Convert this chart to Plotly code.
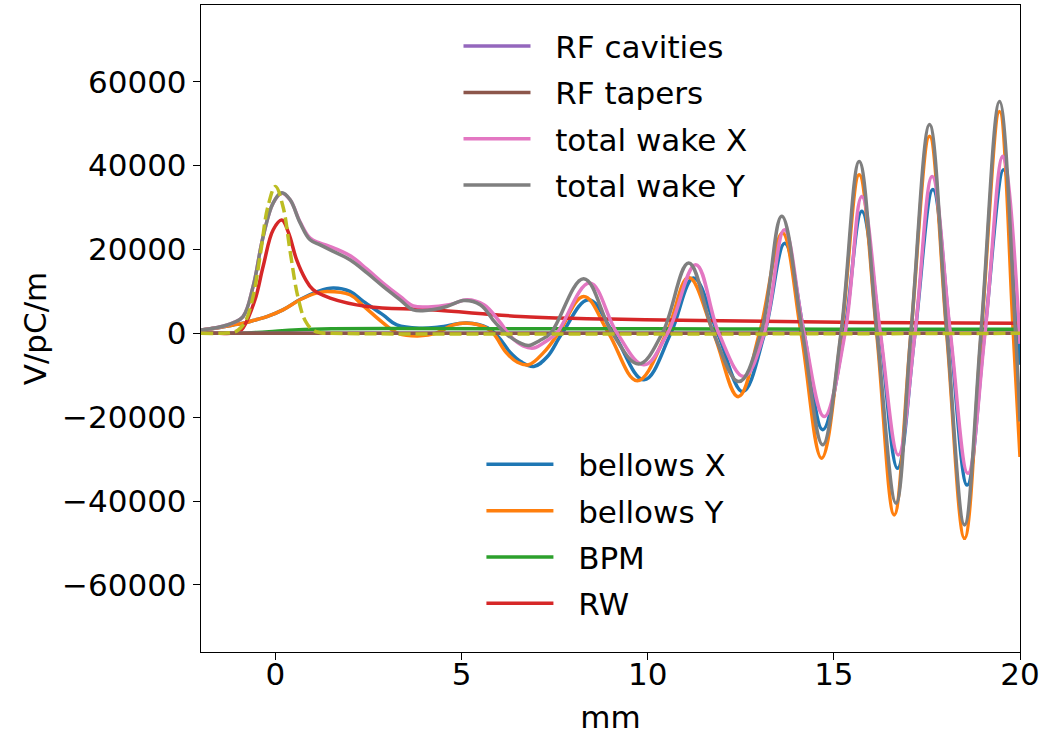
import plotly.graph_objects as go

# ---------------- data ----------------
bellows_x_x = [-2, -1.5, -1.14, -0.87, -0.5, -0.23, 0.2, 0.66, 1.12, 1.55, 2.0, 2.36, 2.89, 3.26, 3.9,
               4.4, 5.15, 5.7, 6.0, 6.3, 6.6, 6.94, 7.3, 7.7, 8.41, 9.08, 9.9, 10.62, 11.23, 11.88,
               12.55, 13.14, 13.68, 14.2, 14.7, 15.28, 15.75, 16.24, 16.71, 17.18, 17.66, 18.12,
               18.58, 19.05, 19.56, 19.94, 20.0]
bellows_x_y = [800, 1400, 2000, 2400, 3300, 4000, 5600, 8050, 9900, 10800, 10000, 7600, 4400, 2000, 1200,
               1500, 2450, 1300, -1000, -4500, -6800, -7900, -5600, 0, 8000, 0, -11100, 0, 13200, 0,
               -13900, 0, 21500, 0, -23000, 0, 29100, 0, -32200, 0, 34300, 0,
               -36200, 0, 39000, 0, -7500]

bellows_y_x = [-2, -1.5, -1.14, -0.87, -0.5, -0.23, 0.2, 0.66, 1.12, 1.4, 2.0, 2.36, 2.89, 3.3, 3.89,
               4.3, 4.78, 5.15, 5.6, 5.85, 6.2, 6.5, 6.8, 7.2, 7.6, 8.28, 8.95, 9.72, 10.5, 11.1, 11.77,
               12.43, 13.0, 13.62, 14.12, 14.67, 15.2, 15.68, 16.15, 16.62, 17.07, 17.57, 18.03,
               18.51, 18.96, 19.45, 19.82, 20.0]
bellows_y_y = [800, 1400, 2000, 2400, 3300, 4000, 5600, 8000, 9650, 10000, 9200, 6560, 2500, 0, -600,
               0, 2000, 2430, 1600, 0, -4600, -6900, -7500, -4600, 0, 8800, 0, -11300, 0, 13300, 0,
               -15100, 0, 23900, 0, -29800, 0, 37800, 0, -43300, 0, 47000, 0,
               -48900, 0, 52900, 0, -29500]

bpm_x = [-2, -1.0, -0.5, 0.0, 0.5, 1.0, 1.5, 3.0, 6.0, 10.0, 15.0, 20.0]
bpm_y = [0, 30, 200, 500, 800, 1000, 1100, 1150, 1120, 1080, 1000, 950]

rw_x = [-2, -1.5, -1.2, -1.0, -0.87, -0.55, -0.33, -0.06, 0.17, 0.35, 0.57, 0.8, 1.01, 1.47, 2.46, 4.16,
        6.85, 9.0, 11.4, 15.7, 20.0]
rw_y = [0, 0, 0, 250, 1300, 8000, 16000, 24700, 27000, 24000, 17500, 13000, 10400, 8400, 6400, 5600,
        3870, 3400, 3060, 2600, 2400]

rf_cav_x = [-2, 0, 5, 10, 15, 20]
rf_cav_y = [0, 0, 0, 0, 0, 0]

rf_tap_x = [-2, 0, 5, 10, 15, 20]
rf_tap_y = [0, 0, 0, 0, 0, 0]

total_x_x = [-2, -1.5, -1.14, -0.87, -0.6, -0.33, -0.06, 0.17, 0.39, 0.66, 0.93, 1.2, 1.47, 2.01, 2.46,
             2.89, 3.35, 3.7, 4.1, 4.7, 5.15, 5.6, 6.0, 6.35, 6.65, 6.94, 7.25, 7.55, 8.44, 9.18, 9.9, 10.53,
             11.29, 11.91, 12.58, 13.13, 13.67, 14.2, 14.74, 15.3, 15.75, 16.25, 16.73, 17.18,
             17.64, 18.13, 18.6, 19.06, 19.54, 20.0]
total_x_y = [800, 1500, 2500, 4000, 11200, 23100, 31100, 33400, 31900, 26600, 22700, 21500, 20700, 18500, 15300,
             12000, 8800, 6560, 6300, 6900, 8000, 6800, 3000, -1000, -3000, -3500, -2000, 0, 12000, 0, -7500, 0,
             16350, 0, -10300, 0, 24700, 0, -19850, 0, 32650, 0, -29000, 0,
             37400, 0, -33400, 0, 42200, -2500]

total_y_x = [-2, -1.5, -1.14, -0.87, -0.6, -0.33, -0.06, 0.17, 0.39, 0.66, 0.93, 1.2, 1.47, 2.01, 2.46,
             2.89, 3.35, 3.7, 4.1, 4.6, 5.06, 5.5, 5.9, 6.22, 6.55, 6.8, 7.1, 7.39, 8.28, 9.05, 9.76, 10.39,
             11.1, 11.77, 12.45, 13.04, 13.6, 14.16, 14.7, 15.19, 15.68, 16.16, 16.67, 17.07,
             17.57, 18.04, 18.51, 18.95, 19.45, 19.88, 20.0]
total_y_y = [800, 1500, 2500, 4000, 11200, 23100, 31100, 33500, 31900, 26400, 22300, 21100, 19900, 17500, 14400,
             11200, 8000, 5600, 5500, 6400, 7800, 6800, 2600, -300, -2200, -2900, -1700, 0, 13000, 0, -7300, 0,
             16750, 0, -11500, 0, 27900, 0, -26600, 0, 41000, 0, -40500, 0,
             49800, 0, -45700, 0, 55300, 0, -21000]

bunch_x = [-2, -1.5, -1.2, -1.0, -0.8, -0.6, -0.4, -0.2, 0.0, 0.2, 0.4, 0.6, 0.8, 1.0, 1.2, 1.5, 20]
bunch_y = [0, 0, 150, 800, 3000, 8800, 19200, 30300, 35000, 30300, 19200, 8800, 3000, 800, 150, 0, 0]

# ---------------- figure ----------------
FONT = "DejaVu Sans"
FS = 31
LW = 3.5
PAD = "\u00a0\u00a0"   # gap between legend line sample and its label
fig = go.Figure()

def add(x, y, name, color, legend, dash="solid", show=True):
    fig.add_trace(go.Scatter(
        x=x, y=y, name=PAD + name, mode="lines",
        line=dict(color=color, width=LW, dash=dash, shape="spline", smoothing=1.1),
        legend=legend, legendgroup=name, showlegend=show))

add(bellows_x_x, bellows_x_y, "bellows X", "#1f77b4", "legend")
add(bellows_y_x, bellows_y_y, "bellows Y", "#ff7f0e", "legend")
add(bpm_x, bpm_y, "BPM", "#2ca02c", "legend")
add(rw_x, rw_y, "RW", "#d62728", "legend")
add(rf_cav_x, rf_cav_y, "RF cavities", "#9467bd", "legend2")
add(rf_tap_x, rf_tap_y, "RF tapers", "#8c564b", "legend2")
add(total_x_x, total_x_y, "total wake X", "#e377c2", "legend2")
add(total_y_x, total_y_y, "total wake Y", "#7f7f7f", "legend2")
add(bunch_x, bunch_y, "bunch", "#bcbd22", "legend", dash="12px,5px", show=False)

yticks = [-60000, -40000, -20000, 0, 20000, 40000, 60000]
yticktext = [("\u2212" + str(-v)) if v < 0 else str(v) for v in yticks]

axis_common = dict(showgrid=False, zeroline=False, showline=True, linecolor="black", linewidth=1.4,
                   mirror=True, ticks="outside", ticklen=7, tickwidth=1.4, tickcolor="black",
                   tickfont=dict(family=FONT, size=FS, color="black"))

fig.update_layout(
    width=1050, height=738,
    margin=dict(l=201, r=30, t=5, b=86, autoexpand=False),
    paper_bgcolor="white", plot_bgcolor="white",
    font=dict(family=FONT, size=FS, color="black"),
    xaxis=dict(range=[-2, 20], tickvals=[0, 5, 10, 15, 20], ticklabelstandoff=-12,
               title=dict(text="mm", font=dict(family=FONT, size=FS), standoff=14),
               **axis_common),
    yaxis=dict(range=[-76000, 78300], tickvals=yticks, ticktext=yticktext,
               title=dict(text="V/pC/m", font=dict(family=FONT, size=FS), standoff=6),
               **axis_common),
    legend=dict(x=0.3424, y=0.3312, xanchor="left", yanchor="top", bgcolor="rgba(0,0,0,0)",
                borderwidth=0, traceorder="grouped", tracegroupgap=3, itemwidth=67,
                font=dict(family=FONT, size=FS)),
    legend2=dict(x=0.3144, y=0.9777, xanchor="left", yanchor="top", bgcolor="rgba(0,0,0,0)",
                 borderwidth=0, traceorder="grouped", tracegroupgap=3, itemwidth=67,
                 font=dict(family=FONT, size=FS)),
)

fig.write_html("out.html", config={"displayModeBar": False},
               post_script="document.body.style.margin='0px';")
